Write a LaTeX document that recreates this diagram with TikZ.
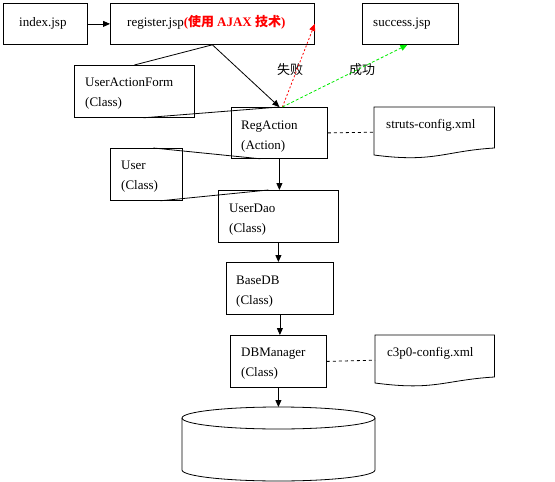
\documentclass[tikz,border=0pt]{standalone}
\usepackage{fontspec}
\setmainfont{Liberation Serif}
\newfontfamily\cjk{Noto Sans CJK SC}
\usetikzlibrary{arrows.meta,calc}
\definecolor{okgreen}{RGB}{0,235,0}
\begin{document}
\begin{tikzpicture}[x=1pt,y=-1pt,
  box/.style={draw,line width=0.8pt,inner sep=0pt,anchor=north west},
  ghost/.style={inner sep=0pt,anchor=north west},
  lbl/.style={anchor=base west,inner sep=0pt,align=left,font=\fontsize{13}{20}\selectfont},
  tag/.style={inner sep=0pt,font=\fontsize{13}{16}\selectfont\cjk},
  ln/.style={line width=0.8pt},
  arr/.style={line width=0.8pt,-{Triangle[length=7pt,width=6pt]}}]
\useasboundingbox (0,0) rectangle (555,482);
% boxes
\node[box,minimum width=84pt,minimum height=41pt] (idx) at (3,3) {};
\node[box,minimum width=204pt,minimum height=41pt] (reg) at (110,3) {};
\node[box,minimum width=96pt,minimum height=41pt] (succ) at (362,3) {};
\node[box,minimum width=120pt,minimum height=52pt] (uaf) at (74,65) {};
\node[box,minimum width=96pt,minimum height=51pt] (ra) at (231,107) {};
\node[box,minimum width=72pt,minimum height=52pt] (user) at (110,148) {};
\node[box,minimum width=120pt,minimum height=52pt] (ud) at (218,190) {};
\node[box,minimum width=107pt,minimum height=52pt] (bdb) at (226,262) {};
\node[box,minimum width=96pt,minimum height=52pt] (dbm) at (230,335) {};
\node[ghost,minimum width=120pt,minimum height=50pt] (sc) at (374,107) {};
\node[ghost,minimum width=119pt,minimum height=50pt] (cc) at (375,335) {};
% document shapes
\draw[ln] (sc.north west) -- (sc.north east) -- ($(sc.north east)+(0,41)$)
  .. controls +(-50,3) and +(60,8) .. ($(sc.north west)+(0,48)$) -- cycle;
\draw[ln] (cc.north west) -- (cc.north east) -- ($(cc.north east)+(0,42)$)
  .. controls +(-50,3) and +(60,8) .. ($(cc.north west)+(0,48)$) -- cycle;
% database cylinder
\coordinate (db) at (278.5,407);
\draw[ln] (278.5,418) ellipse [x radius=96.5, y radius=11];
\draw[ln] (182,418) -- (182,470) .. controls (182,476.07) and (225.2,481) .. (278.5,481)
  .. controls (331.8,481) and (375,476.07) .. (375,470) -- (375,418);
% labels (two-line labels are anchored at the baseline of their last line)
\node[lbl] (tidx) at ($(idx.north west)+(16,23)$) {index.jsp};
\node[lbl] (treg) at ($(reg.north west)+(17,23)$) {register.jsp{\color{red}\bfseries(\cjk 使用 \rmfamily\bfseries AJAX \cjk\bfseries 技术\rmfamily\bfseries)}};
\node[lbl] (tsucc) at ($(succ.north west)+(11,23)$) {success.jsp};
\node[lbl] (tuaf) at ($(uaf.north west)+(11,41)$) {UserActionForm\\(Class)};
\node[lbl] (tra) at ($(ra.north west)+(10,42)$) {RegAction\\(Action)};
\node[lbl] (tsc) at ($(sc.north west)+(12,21)$) {struts-config.xml};
\node[lbl] (tuser) at ($(user.north west)+(11,41)$) {User\\(Class)};
\node[lbl] (tud) at ($(ud.north west)+(11,42)$) {UserDao\\(Class)};
\node[lbl] (tbdb) at ($(bdb.north west)+(10,42)$) {BaseDB\\(Class)};
\node[lbl] (tdbm) at ($(dbm.north west)+(11,41)$) {DBManager\\(Class)};
\node[lbl] (tcc) at ($(cc.north west)+(12,21)$) {c3p0-config.xml};
\node[tag] (fail) at (290,70) {失败};
\node[tag] (ok) at (362,70) {成功};
% connectors
\draw[arr] (idx.east) -- (reg.west);
\draw[ln] (reg.south) -- (uaf.north);
\draw[ln] ([xshift=9pt]uaf.south) -- (ra.north);
\draw[arr] (reg.south) -- (ra.north);
\draw[ln] ([xshift=7pt]user.north) -- ([xshift=-19pt]ra.south);
\draw[ln] ([xshift=14pt]user.south) -- ([xshift=-10pt]ud.north);
\draw[arr] (ra.south) -- (ra.south |- ud.north);
\draw[arr] (ud.south) -- (ud.south |- bdb.north);
\draw[arr] (bdb.south) -- (bdb.south |- dbm.north);
\draw[arr] (dbm.south) -- (dbm.south |- db);
\draw[ln,dashed] (ra.east) -- (sc.west);
\draw[ln,dashed] (dbm.east) -- (cc.west);
\draw[arr,red,dash pattern=on 2pt off 2pt] ([xshift=3pt]ra.north) -- (reg.east);
\draw[arr,okgreen,dash pattern=on 3pt off 2pt] ([xshift=3pt]ra.north) -- ([xshift=-3pt]succ.south);
\end{tikzpicture}
\end{document}
